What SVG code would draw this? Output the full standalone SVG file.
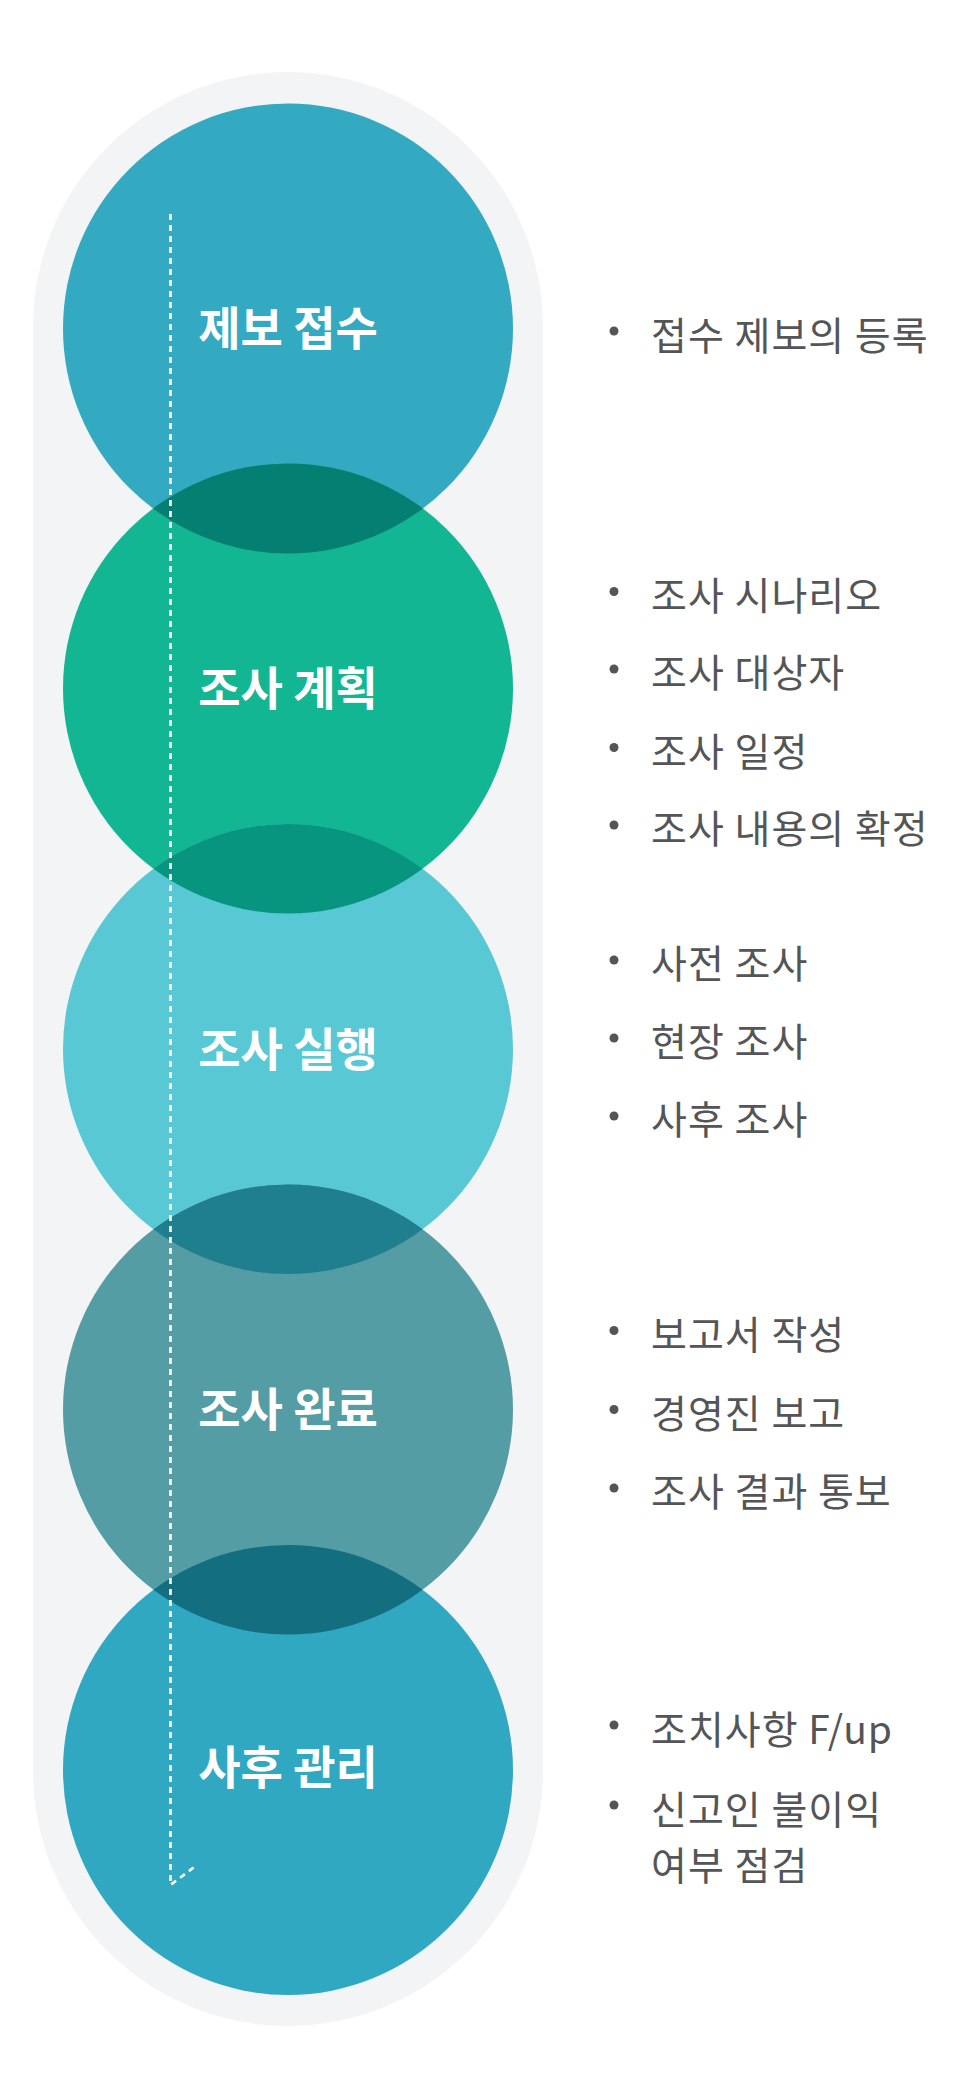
<svg xmlns="http://www.w3.org/2000/svg" width="960" height="2095" viewBox="0 0 960 2095">
<style>
.lbl{font-family:"Noto Sans CJK KR","Noto Sans",sans-serif;font-size:46px;font-weight:700;fill:#ffffff;text-anchor:middle}
.item{font-family:"Noto Sans CJK KR","Noto Sans",sans-serif;font-size:39px;font-weight:400;fill:#545557;letter-spacing:1px}
.dot{fill:#545557}
</style>
<defs>
<clipPath id="c1"><circle cx="288" cy="328.5" r="225"/></clipPath>
<clipPath id="c2"><circle cx="288" cy="688.5" r="225"/></clipPath>
<clipPath id="c3"><circle cx="288" cy="1049" r="225"/></clipPath>
<clipPath id="c4"><circle cx="288" cy="1409.5" r="225"/></clipPath>
</defs>
<rect width="960" height="2095" fill="#ffffff"/>
<rect x="33" y="72" width="510" height="1954" rx="255" ry="255" fill="#f3f4f6"/>
<g id="node1"><circle cx="288" cy="328.5" r="225" fill="#33a9c2"/></g>
<g id="node2"><circle cx="288" cy="688.5" r="225" fill="#13b693"/><circle cx="288" cy="688.5" r="225" fill="#067f73" clip-path="url(#c1)"/></g>
<g id="node3"><circle cx="288" cy="1049" r="225" fill="#58c8d4"/><circle cx="288" cy="1049" r="225" fill="#079580" clip-path="url(#c2)"/></g>
<g id="node4"><circle cx="288" cy="1409.5" r="225" fill="#559da5"/><circle cx="288" cy="1409.5" r="225" fill="#1f7f8e" clip-path="url(#c3)"/></g>
<g id="node5"><circle cx="288" cy="1770" r="225" fill="#31a8c1"/><circle cx="288" cy="1770" r="225" fill="#136e80" clip-path="url(#c4)"/></g>
<g id="connectors"><path d="M170.5 214 V1885 L197 1865" fill="none" stroke="#ffffff" stroke-width="2.6" stroke-dasharray="6 5"/></g>
<g id="labels">
<text class="lbl" x="288" y="345">제보 접수</text>
<text class="lbl" x="288" y="705">조사 계획</text>
<text class="lbl" x="288" y="1065.5">조사 실행</text>
<text class="lbl" x="288" y="1426">조사 완료</text>
<text class="lbl" x="288" y="1784">사후 관리</text>
</g>
<g id="items">
<circle class="dot" cx="614" cy="331" r="4.5"/><text class="item" x="651" y="349.5">접수 제보의 등록</text>
<circle class="dot" cx="614" cy="591.5" r="4.5"/><text class="item" x="651" y="609.5">조사 시나리오</text>
<circle class="dot" cx="614" cy="669" r="4.5"/><text class="item" x="651" y="687">조사 대상자</text>
<circle class="dot" cx="614" cy="747.5" r="4.5"/><text class="item" x="651" y="765.5">조사 일정</text>
<circle class="dot" cx="614" cy="825" r="4.5"/><text class="item" x="651" y="843">조사 내용의 확정</text>
<circle class="dot" cx="614" cy="960" r="4.5"/><text class="item" x="651" y="978">사전 조사</text>
<circle class="dot" cx="614" cy="1038" r="4.5"/><text class="item" x="651" y="1056">현장 조사</text>
<circle class="dot" cx="614" cy="1116" r="4.5"/><text class="item" x="651" y="1134">사후 조사</text>
<circle class="dot" cx="614" cy="1330.5" r="4.5"/><text class="item" x="651" y="1348.5">보고서 작성</text>
<circle class="dot" cx="614" cy="1409.5" r="4.5"/><text class="item" x="651" y="1427.5">경영진 보고</text>
<circle class="dot" cx="614" cy="1488" r="4.5"/><text class="item" x="651" y="1506">조사 결과 통보</text>
<circle class="dot" cx="614" cy="1725" r="4.5"/><text class="item" x="651" y="1744">조치사항 F/up</text>
<circle class="dot" cx="614" cy="1805" r="4.5"/><text class="item" x="651" y="1823.5">신고인 불이익</text>
<text class="item" x="651" y="1880">여부 점검</text>
</g>
</svg>
